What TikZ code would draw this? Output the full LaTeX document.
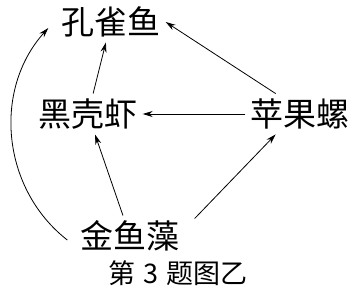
\documentclass[tikz,border=0pt]{standalone}
\usepackage{fontspec}
\newfontfamily\cjk{Noto Sans CJK SC}
\usetikzlibrary{arrows.meta}
\tikzset{
  species/.style={font=\cjk\fontsize{33}{33}\selectfont, inner sep=5pt},
  caption/.style={font=\cjk\fontsize{27}{27}\selectfont, inner sep=0pt},
  feed/.style={-{Stealth[length=10pt,width=6pt]}, line width=0.8pt},
}
\begin{document}
\begin{tikzpicture}[x=1pt,y=1pt]
    \useasboundingbox (0,0) rectangle (355,293);
    % --- organismi ---
    \node[species] (kqy) at (111,271) {孔雀鱼};
    \node[species] (hkx) at (88,179) {黑壳虾};
    \node[species] (pgl) at (300,179) {苹果螺};
    \node[species] (jyz) at (130,57) {金鱼藻};
    \node[caption] (cap) at (178,20) {第\hspace{0.3em}3\hspace{0.3em}题图乙};
    % --- frecce ---
    \draw[feed] (pgl.west) -- (hkx.east);
    \draw[feed] (pgl.140) -- (kqy.east);
    \draw[feed] (hkx) -- (kqy);
    \draw[feed] (jyz) -- (hkx);
    \draw[feed] ([xshift=10pt,yshift=-3pt]jyz.north east) -- (pgl.-140);
    \draw[feed] ([xshift=-8pt,yshift=-4pt]jyz.west) to[out=142,in=228] ([xshift=-8pt,yshift=-6pt]kqy.west);
  \end{tikzpicture}
\end{document}
